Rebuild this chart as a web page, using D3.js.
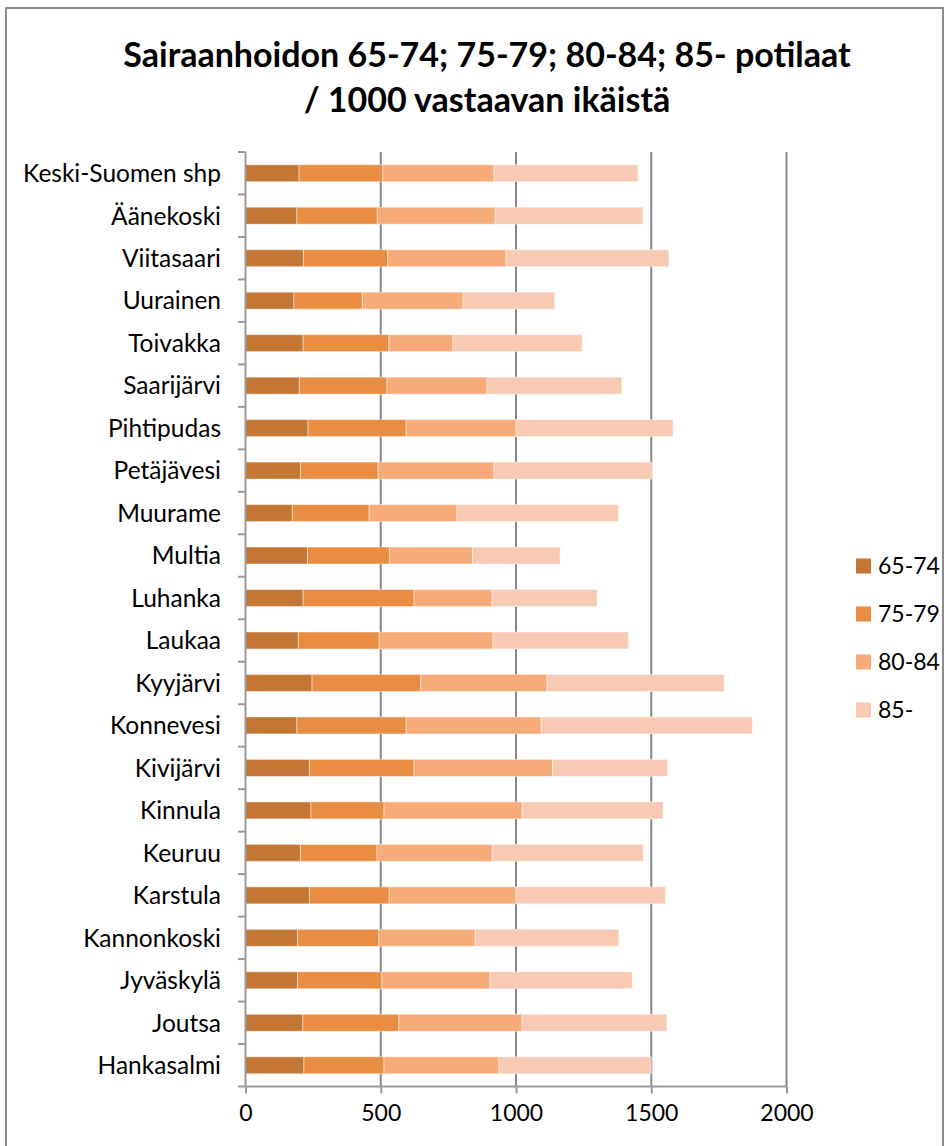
<!DOCTYPE html>
<html>
<head>
<meta charset="utf-8">
<script src="https://cdnjs.cloudflare.com/ajax/libs/d3/7.8.5/d3.min.js"></script>
<style>
  body { margin: 0; background: #fff; }
  text { font-family: Lato, "Open Sans", sans-serif; fill: #000; }
</style>
</head>
<body>
<svg width="952" height="1146"></svg>
<script>
const categories = ["Keski-Suomen shp", "Äänekoski", "Viitasaari", "Uurainen", "Toivakka", "Saarijärvi",
  "Pihtipudas", "Petäjävesi", "Muurame", "Multia", "Luhanka", "Laukaa", "Kyyjärvi", "Konnevesi",
  "Kivijärvi", "Kinnula", "Keuruu", "Karstula", "Kannonkoski", "Jyväskylä", "Joutsa", "Hankasalmi"];

const seriesNames = ["65-74", "75-79", "80-84", "85-"];
const v6574 = [198, 190, 214, 179, 213, 199, 231, 203, 173, 229, 213, 195, 246, 190, 236, 242, 203, 236, 192, 192, 212, 216];
const v7579 = [310, 297, 312, 253, 317, 324, 363, 287, 284, 303, 410, 299, 402, 404, 387, 270, 283, 295, 301, 312, 355, 296];
const v8084 = [411, 436, 437, 372, 237, 370, 406, 429, 325, 307, 289, 421, 467, 499, 512, 511, 426, 469, 356, 400, 456, 425];
const v85   = [532, 546, 602, 339, 479, 498, 581, 585, 597, 324, 388, 501, 655, 781, 426, 521, 559, 553, 531, 526, 535, 563];
const xTicks = [0, 500, 1000, 1500, 2000];
const colors = ["#c47735", "#e88d42", "#f7ab79", "#f9cab3"];

const svg = d3.select("svg");

// chart frame
svg.append("rect")
    .attr("x", 6).attr("y", 8)
    .attr("width", 937).attr("height", 1200)
    .attr("fill", "none")
    .attr("stroke", "#8c8c8c")
    .attr("stroke-width", 2);

// title
const title = svg.append("text")
    .attr("text-anchor", "middle")
    .style("font-weight", "bold")
    .style("font-size", "34px");
title.append("tspan").attr("x", 487).attr("y", 67).text("Sairaanhoidon 65-74; 75-79; 80-84; 85- potilaat");
title.append("tspan").attr("x", 487).attr("y", 112).text("/ 1000 vastaavan ikäistä");

const x = d3.scaleLinear().domain([0, 2000]).range([245.5, 786.5]);
const y = d3.scaleBand().domain(categories).range([152, 1086.5]).paddingInner(0.6).paddingOuter(0.3);

// gridlines
svg.append("g")
    .selectAll("line")
    .data(xTicks.slice(1))
    .enter().append("line")
    .attr("x1", d => x(d)).attr("x2", d => x(d))
    .attr("y1", 152).attr("y2", 1086.5)
    .attr("stroke", "#878787")
    .attr("stroke-width", 2);

// stacked bars
const rows = categories.map((c, i) => ({cat: c, "65-74": v6574[i], "75-79": v7579[i], "80-84": v8084[i], "85-": v85[i]}));
const stacked = d3.stack().keys(seriesNames)(rows);

svg.append("g")
    .selectAll("g")
    .data(stacked)
    .enter().append("g")
    .attr("fill", (d, i) => colors[i])
    .selectAll("rect")
    .data(d => d)
    .enter().append("rect")
    .attr("x", d => x(d[0]))
    .attr("width", d => x(d[1]) - x(d[0]))
    .attr("y", d => y(d.data.cat))
    .attr("height", y.bandwidth())
    .attr("stroke", "rgba(255,255,255,0.45)")
    .attr("stroke-width", 1);

// y axis
const yAxis = svg.append("g");
yAxis.append("line")
    .attr("x1", 245.5).attr("x2", 245.5)
    .attr("y1", 152).attr("y2", 1086.5)
    .attr("stroke", "#9a9a9a").attr("stroke-width", 2);
yAxis.selectAll(".tick")
    .data(d3.range(categories.length + 1))
    .enter().append("line")
    .attr("x1", 238).attr("x2", 245.5)
    .attr("y1", i => 152 + i * y.step()).attr("y2", i => 152 + i * y.step())
    .attr("stroke", "#9a9a9a").attr("stroke-width", 2);
yAxis.selectAll("text")
    .data(categories)
    .enter().append("text")
    .attr("x", 221)
    .attr("y", d => y(d) + y.bandwidth() / 2)
    .attr("dy", "0.36em")
    .attr("text-anchor", "end")
    .style("font-size", "24.5px")
    .text(d => d);

// x axis
const xAxis = svg.append("g")
    .attr("transform", "translate(0,1086.5)")
    .call(d3.axisBottom(x).tickValues(xTicks).tickSize(7).tickPadding(11).tickFormat(d3.format("d")));
xAxis.selectAll("line, path").attr("stroke", "#9a9a9a").attr("stroke-width", 2);
xAxis.select(".domain").attr("d", "M245.5,0H786.5");
xAxis.selectAll("text")
    .style("font-family", "Lato, 'Open Sans', sans-serif")
    .style("font-size", "23px")
    .attr("fill", "#000");

// legend
const legend = svg.append("g")
    .selectAll("g")
    .data(seriesNames)
    .enter().append("g")
    .attr("transform", (d, i) => "translate(856," + (566 + i * 48) + ")");
legend.append("rect")
    .attr("x", 0).attr("y", -7.5)
    .attr("width", 15).attr("height", 15)
    .attr("fill", (d, i) => colors[i]);
legend.append("text")
    .attr("x", 22)
    .attr("dy", "0.36em")
    .style("font-size", "23px")
    .text(d => d);
</script>
</body>
</html>
